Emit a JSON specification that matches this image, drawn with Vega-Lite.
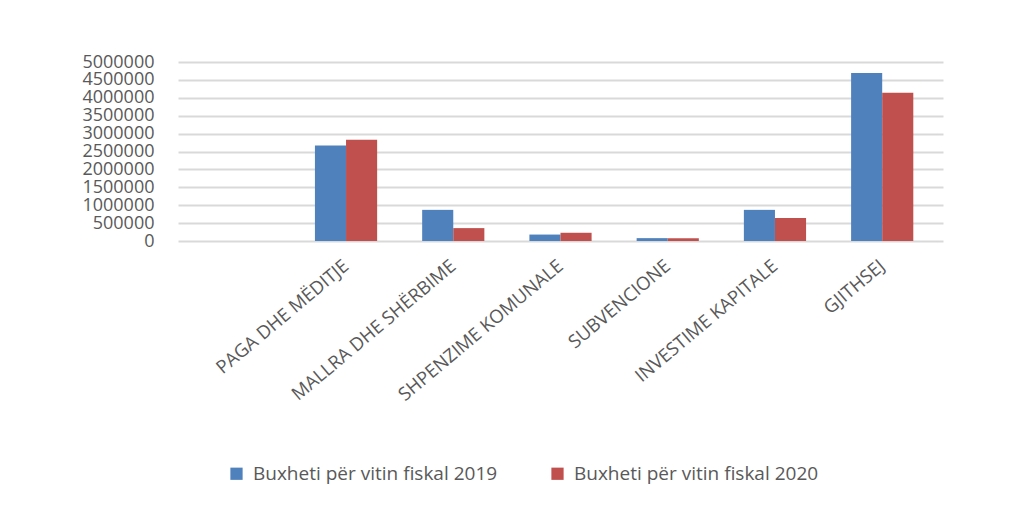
{
  "$schema": "https://vega.github.io/schema/vega-lite/v6.json",
  "width": 765,
  "height": 179,
  "autosize": {"type": "none"},
  "padding": {"left": 178, "top": 62, "right": 76, "bottom": 265},
  "background": "white",
  "config": {"view": {"stroke": null}, "font": "Open Sans"},
  "data": {
    "values": [
      {"category": "PAGA DHE MËDITJE", "series": "Buxheti për vitin fiskal  2019", "value": 2670000},
      {"category": "PAGA DHE MËDITJE", "series": "Buxheti për vitin fiskal  2020", "value": 2830000},
      {"category": "MALLRA DHE SHËRBIME", "series": "Buxheti për vitin fiskal  2019", "value": 870000},
      {"category": "MALLRA DHE SHËRBIME", "series": "Buxheti për vitin fiskal  2020", "value": 360000},
      {"category": "SHPENZIME KOMUNALE", "series": "Buxheti për vitin fiskal  2019", "value": 180000},
      {"category": "SHPENZIME KOMUNALE", "series": "Buxheti për vitin fiskal  2020", "value": 230000},
      {"category": "SUBVENCIONE", "series": "Buxheti për vitin fiskal  2019", "value": 80000},
      {"category": "SUBVENCIONE", "series": "Buxheti për vitin fiskal  2020", "value": 80000},
      {"category": "INVESTIME KAPITALE", "series": "Buxheti për vitin fiskal  2019", "value": 870000},
      {"category": "INVESTIME KAPITALE", "series": "Buxheti për vitin fiskal  2020", "value": 640000},
      {"category": "GJITHSEJ", "series": "Buxheti për vitin fiskal  2019", "value": 4690000},
      {"category": "GJITHSEJ", "series": "Buxheti për vitin fiskal  2020", "value": 4140000}
    ]
  },
  "mark": {"type": "bar"},
  "encoding": {
    "x": {
      "field": "category",
      "type": "nominal",
      "sort": null,
      "scale": {
        "domain": ["", "PAGA DHE MËDITJE", "MALLRA DHE SHËRBIME", "SHPENZIME KOMUNALE", "SUBVENCIONE", "INVESTIME KAPITALE", "GJITHSEJ"],
        "paddingInner": 0.42,
        "paddingOuter": 0.277
      },
      "axis": {
        "title": null,
        "labelAngle": -40,
        "labelAlign": "right",
        "labelBaseline": "middle",
        "ticks": false,
        "domain": false,
        "labelFontSize": 18.5,
        "labelColor": "#595959",
        "labelPadding": 22,
        "labelLimit": 400,
        "labelOverlap": false
      }
    },
    "xOffset": {"field": "series", "sort": null},
    "y": {
      "field": "value",
      "type": "quantitative",
      "scale": {"domain": [0, 5000000], "nice": false},
      "axis": {
        "title": null,
        "values": [0, 500000, 1000000, 1500000, 2000000, 2500000, 3000000, 3500000, 4000000, 4500000, 5000000],
        "format": "d",
        "labelFontSize": 18,
        "labelColor": "#595959",
        "labelOverlap": false,
        "grid": true,
        "gridColor": "#d9d9d9",
        "gridWidth": 2,
        "domain": false,
        "ticks": false,
        "labelPadding": 24
      }
    },
    "color": {
      "field": "series",
      "type": "nominal",
      "scale": {"range": ["#4f81bd", "#c0504d"]},
      "legend": {
        "title": null,
        "orient": "none",
        "legendX": 49,
        "legendY": 402,
        "direction": "horizontal",
        "symbolType": "square",
        "symbolSize": 150,
        "symbolStrokeWidth": 0,
        "labelFontSize": 19,
        "labelColor": "#595959",
        "labelLimit": 400,
        "columnPadding": 45,
        "labelOffset": 7
      }
    }
  }
}
